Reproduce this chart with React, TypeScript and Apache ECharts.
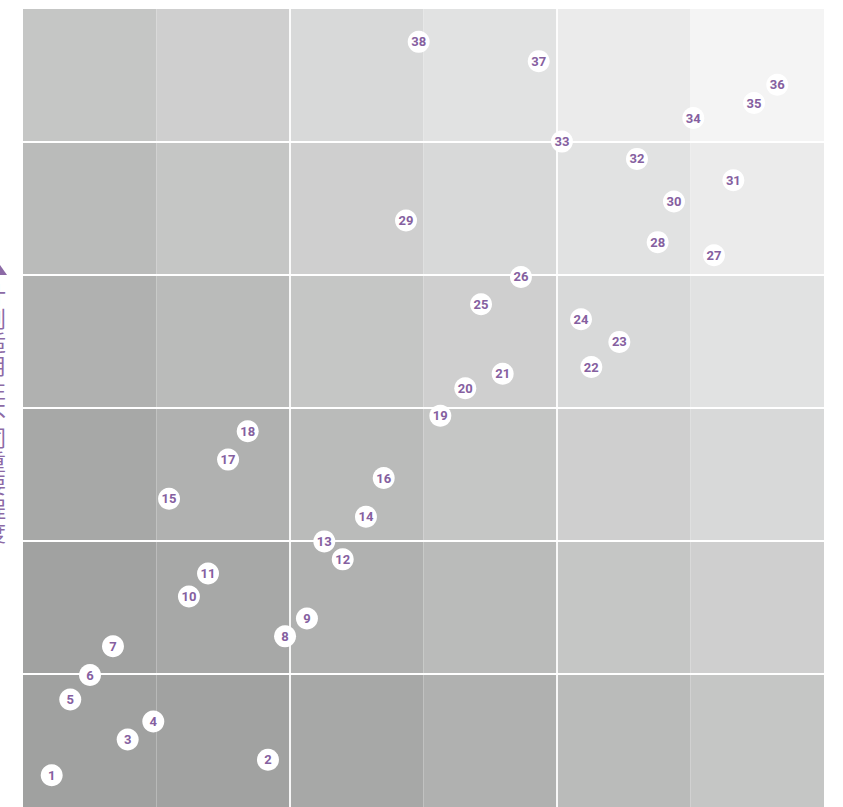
import React, { useEffect, useRef } from "react";
import * as echarts from "echarts";

// Grid of 6 x 6 shaded cells; shade depends on (column + row) diagonal level
const cellCols = [0, 1, 2, 3, 4, 5];
const cellRows = [0, 1, 2, 3, 4, 5];
const shadeLevels = [
  "#a0a1a0", "#a1a2a1", "#a7a8a7", "#b0b1b0", "#babbba", "#c5c6c5",
  "#cfcfcf", "#d8d9d9", "#e1e2e2", "#ebebeb", "#f4f4f4",
];
// white separators
const hLines = [1, 2, 3, 4, 5];
const vLines = [2, 4];

// numbered points
const pointLabels = [
  "1", "2", "3", "4", "5", "6", "7", "8", "9", "10",
  "11", "12", "13", "14", "15", "16", "17", "18", "19", "20",
  "21", "22", "23", "24", "25", "26", "27", "28", "29", "30",
  "31", "32", "33", "34", "35", "36", "37", "38",
];
const pointX = [
  0.215, 1.835, 0.784, 0.976, 0.354, 0.502, 0.674, 1.963, 2.127, 1.243,
  1.386, 2.395, 2.257, 2.569, 1.094, 2.702, 1.536, 1.683, 3.126, 3.313,
  3.593, 4.257, 4.467, 4.18, 3.431, 3.73, 5.176, 4.754, 2.869, 4.876,
  5.321, 4.599, 4.037, 5.021, 5.476, 5.65, 3.863, 2.964,
];
const pointY = [
  0.238, 0.355, 0.508, 0.643, 0.808, 0.992, 1.208, 1.283, 1.418, 1.583,
  1.755, 1.862, 1.997, 2.183, 2.318, 2.473, 2.612, 2.825, 2.942, 3.148,
  3.257, 3.308, 3.497, 3.668, 3.78, 3.985, 4.148, 4.247, 4.41, 4.553,
  4.712, 4.873, 5.003, 5.18, 5.293, 5.43, 5.608, 5.753,
];

const yAxisTitle = "计划适用性不同重要程度";

export default function App() {
  const ref = useRef<HTMLDivElement>(null);

  useEffect(() => {
    if (!ref.current) return;
    const chart = echarts.init(ref.current, null, { renderer: "svg" });

    const cellData: number[][] = [];
    cellCols.forEach((c) => cellRows.forEach((r) => cellData.push([c, r])));

    const scatterData = pointLabels.map((name, i) => ({
      name,
      value: [pointX[i], pointY[i]],
    }));

    const purple = "#8560a0";

    chart.setOption({
      animation: false,
      grid: { left: 23, top: 9, width: 801, height: 801 },
      xAxis: { type: "value", min: 0, max: 6, show: false, splitLine: { show: false } },
      yAxis: { type: "value", min: 0, max: 6, show: false, splitLine: { show: false } },
      graphic: [
        {
          type: "polygon",
          shape: { points: [[0, 265], [-7, 275], [7, 275]] },
          style: { fill: "#8c6aa6" },
        },
        {
          type: "text",
          x: -5,
          y: 281,
          style: {
            text: yAxisTitle.split("").join("\n"),
            fill: "#8c6aa6",
            font: '22px "Noto Sans CJK SC"',
            lineHeight: 23.8,
            align: "center",
            verticalAlign: "top",
          },
        },
      ],
      series: [
        {
          type: "custom",
          silent: true,
          z: 1,
          data: cellData,
          renderItem: (params: any, api: any) => {
            const c = api.value(0);
            const r = api.value(1);
            const tl = api.coord([c, r + 1]);
            const br = api.coord([c + 1, r]);
            const g = 0.9;
            const top = hLines.includes(r + 1) ? g : 0;
            const bottom = hLines.includes(r) ? g : 0;
            const left = vLines.includes(c) ? g : 0;
            const right = vLines.includes(c + 1) ? g : 0;
            return {
              type: "rect",
              shape: {
                x: tl[0] + left,
                y: tl[1] + top,
                width: br[0] - tl[0] - left - right,
                height: br[1] - tl[1] - top - bottom,
              },
              style: { fill: shadeLevels[c + r] },
            };
          },
        },
        {
          type: "scatter",
          z: 3,
          symbol: "circle",
          symbolSize: 22,
          data: scatterData,
          itemStyle: { color: "#ffffff", opacity: 1 },
          label: {
            show: true,
            position: "inside",
            formatter: (p: any) => p.name,
            color: purple,
            fontWeight: "bold",
            fontSize: 13,
            fontFamily: "Roboto",
            letterSpacing: -0.5,
          },
          emphasis: { disabled: true },
        },
      ],
    });

    return () => chart.dispose();
  }, []);

  return (
    <div
      ref={ref}
      style={{ position: "absolute", left: 0, top: 0, width: 843, height: 807 }}
    />
  );
}
